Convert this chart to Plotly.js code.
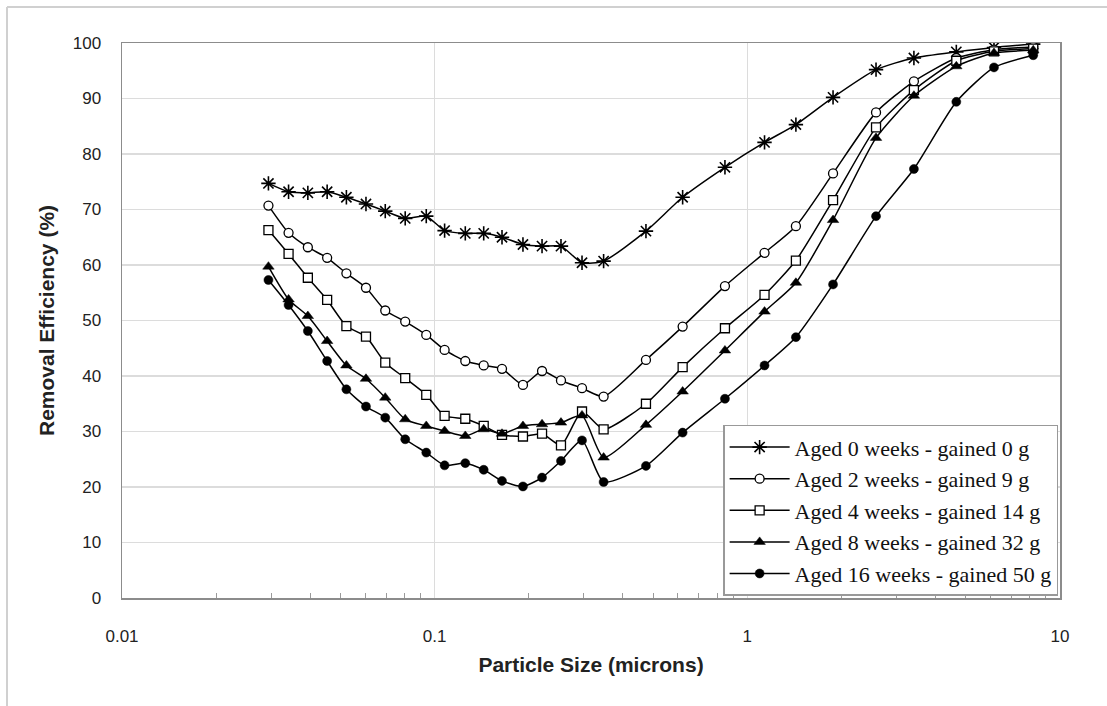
<!DOCTYPE html>
<html>
<head>
<meta charset="utf-8">
<script src="https://cdn.plot.ly/plotly-3.0.1.min.js"></script>
<style>html,body{margin:0;padding:0;background:#fff;}#chart{width:1107px;height:706px;}</style>
</head>
<body>
<div id="chart"></div>
<script>
// Particle sizes (microns)
var particleSize = [0.0294, 0.0341, 0.0393, 0.0453, 0.0522, 0.0603, 0.0695, 0.0805, 0.094, 0.1076,
  0.1253, 0.1435, 0.1642, 0.1916, 0.2205, 0.2535, 0.296, 0.347,
  0.474, 0.621, 0.848, 1.135, 1.43, 1.88, 2.58, 3.41, 4.66, 6.15, 8.21];

var seriesNames = [
  "Aged 0 weeks - gained 0 g",
  "Aged 2 weeks - gained 9 g",
  "Aged 4 weeks - gained 14 g",
  "Aged 8 weeks - gained 32 g",
  "Aged 16 weeks - gained 50 g"
];

var aged0 = [74.7, 73.2, 73.0, 73.2, 72.2, 71.0, 69.7, 68.4, 68.8, 66.2,
  65.7, 65.7, 65.0, 63.7, 63.4, 63.4, 60.4, 60.7,
  66.1, 72.2, 77.6, 82.1, 85.3, 90.2, 95.2, 97.3, 98.4, 99.2, 99.8];

var aged2 = [70.7, 65.8, 63.2, 61.3, 58.5, 55.9, 51.8, 49.8, 47.4, 44.7,
  42.7, 41.9, 41.3, 38.4, 40.9, 39.2, 37.8, 36.3,
  42.9, 48.9, 56.2, 62.2, 67.0, 76.5, 87.5, 93.1, 97.3, 98.8, 99.3];

var aged4 = [66.3, 62.0, 57.7, 53.7, 49.0, 47.1, 42.4, 39.6, 36.6, 32.8,
  32.3, 31.0, 29.4, 29.1, 29.6, 27.5, 33.6, 30.4,
  35.0, 41.6, 48.6, 54.6, 60.8, 71.7, 84.8, 91.5, 96.8, 98.5, 99.0];

var aged8 = [59.7, 53.8, 50.8, 46.3, 41.9, 39.5, 36.1, 32.2, 31.0, 30.1,
  29.2, 30.4, 29.6, 31.0, 31.3, 31.6, 32.9, 25.3,
  31.2, 37.2, 44.6, 51.6, 56.8, 68.1, 82.9, 90.5, 95.8, 98.2, 98.7];

var aged16 = [57.3, 52.8, 48.1, 42.7, 37.6, 34.5, 32.5, 28.6, 26.2, 23.9,
  24.3, 23.1, 21.1, 20.1, 21.7, 24.7, 28.4, 20.9,
  23.8, 29.8, 35.9, 41.9, 47.0, 56.5, 68.8, 77.3, 89.4, 95.6, 97.8];

var xTickVals = [0.01, 0.1, 1, 10];
var xTickText = ["0.01", "0.1", "1", "10"];
var yTickVals = [0, 10, 20, 30, 40, 50, 60, 70, 80, 90, 100];

// minor ticks: 2..9 within each decade
var minorTickVals = [];
[0.01, 0.1, 1].forEach(function (d) {
  for (var k = 2; k <= 9; k++) minorTickVals.push(+(d * k).toPrecision(3));
});

var seriesData = [aged0, aged2, aged4, aged8, aged16];
var markerStyles = [
  {symbol: "asterisk-open", size: 12, color: "#000", line: {color: "#000", width: 1.6}},
  {symbol: "circle", size: 9, color: "#fff", line: {color: "#000", width: 1.3}},
  {symbol: "square", size: 9, color: "#fff", line: {color: "#000", width: 1.3}},
  {symbol: "triangle-up", size: 10, color: "#000", line: {color: "#000", width: 0.5}},
  {symbol: "circle", size: 9, color: "#000", line: {color: "#000", width: 0.5}}
];

var traces = seriesData.map(function (ys, i) {
  return {
    x: particleSize,
    y: ys,
    name: seriesNames[i],
    type: "scatter",
    mode: "lines+markers",
    line: {color: "#000", width: 1.5, shape: "spline", smoothing: 0.6},
    marker: markerStyles[i]
  };
});

var frameColor = "#d0d0d0";
var layout = {
  width: 1107,
  height: 706,
  margin: {l: 122, r: 47, t: 43, b: 108},
  paper_bgcolor: "#fff",
  plot_bgcolor: "#fff",
  showlegend: true,
  legend: {
    x: 0.998, y: 0.004, xanchor: "right", yanchor: "bottom",
    bgcolor: "#fff", bordercolor: "#999", borderwidth: 1.5,
    font: {family: "Liberation Serif, Times New Roman, serif", size: 22, color: "#111"},
    tracegroupgap: 0, itemsizing: "trace", itemwidth: 60
  },
  xaxis: {
    type: "log",
    range: [-2, 1],
    tickvals: xTickVals,
    ticktext: xTickText,
    ticks: "",
    ticklabelstandoff: 22,
    showgrid: true,
    gridcolor: "#dcdcdc",
    gridwidth: 1,
    showline: true,
    linecolor: "#8c8c8c",
    linewidth: 1.5,
    mirror: true,
    zeroline: false,
    minor: {tickmode: "array", tickvals: minorTickVals, ticks: "inside", ticklen: 5, tickcolor: "#9a9a9a", showgrid: false},
    tickfont: {family: "Liberation Sans, Arial, sans-serif", size: 17, color: "#222"},
    title: {text: "<b>Particle Size (microns)</b>", font: {family: "Liberation Sans, Arial, sans-serif", size: 21, color: "#222"}, standoff: 12}
  },
  yaxis: {
    range: [0, 100],
    tickvals: yTickVals,
    ticks: "",
    ticklabelstandoff: 16,
    showgrid: true,
    gridcolor: "#dcdcdc",
    gridwidth: 1.5,
    showline: true,
    linecolor: "#8c8c8c",
    linewidth: 1.5,
    mirror: true,
    zeroline: false,
    tickfont: {family: "Liberation Sans, Arial, sans-serif", size: 17, color: "#222"},
    title: {text: "<b>Removal Efficiency (%)</b>", font: {family: "Liberation Sans, Arial, sans-serif", size: 21, color: "#222"}, standoff: 12}
  },
  shapes: [
    {type: "line", xref: "paper", yref: "paper", x0: -0.1226, x1: 1.06, y0: 1.0649, y1: 1.0649, line: {color: frameColor, width: 2}},
    {type: "line", xref: "paper", yref: "paper", x0: -0.1226, x1: -0.1226, y0: 1.0649, y1: -0.2, line: {color: frameColor, width: 2}}
  ]
};

Plotly.newPlot("chart", traces, layout, {displayModeBar: false, staticPlot: true});
</script>
</body>
</html>
